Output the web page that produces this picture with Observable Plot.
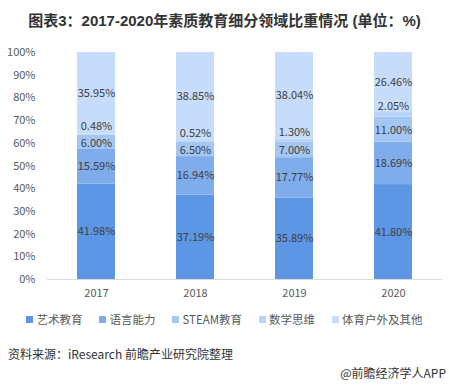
<!DOCTYPE html>
<html>
<head>
<meta charset="utf-8">
<script src="https://cdn.jsdelivr.net/npm/d3@7"></script>
<script src="https://cdn.jsdelivr.net/npm/@observablehq/plot@0.6"></script>
<style>
  html, body { margin: 0; padding: 0; background: #fff; }
  body { width: 449px; height: 385px; overflow: hidden; position: relative;
         font-family: "Noto Sans CJK SC", "Liberation Sans", sans-serif; }
  #title { position: absolute; left: 0; top: 10px; width: 449px; text-align: center;
           font-family: "Liberation Sans", "Noto Sans CJK SC", sans-serif;
           font-weight: bold; font-size: 15px; line-height: 22px; color: #333; }
  #chart { position: absolute; left: 0; top: 38px; }
  #legend { position: absolute; left: 0; top: 309px; width: 449px; display: flex;
            justify-content: center; gap: 17px; font-size: 11.5px; color: #595959; line-height: 20px; }
  #legend .item { display: flex; align-items: center; }
  #legend .sw { width: 7px; height: 7px; margin-right: 3px; }
  #source { position: absolute; left: 8px; top: 344px; font-size: 12px; color: #333; line-height: 20px; }
  #credit { position: absolute; right: 3px; top: 363px; font-size: 12px; color: #333; line-height: 20px; }
</style>
</head>
<body>
<div id="title">图表3：2017-2020年素质教育细分领域比重情况 (单位：%)</div>
<div id="chart"></div>
<div id="legend"></div>
<div id="source">资料来源：iResearch 前瞻产业研究院整理</div>
<div id="credit">@前瞻经济学人APP</div>
<script>
const years = ["2017", "2018", "2019", "2020"];
const series = ["艺术教育", "语言能力", "STEAM教育", "数学思维", "体育户外及其他"];
const art = [41.98, 37.19, 35.89, 41.80];
const language = [15.59, 16.94, 17.77, 18.69];
const steam = [6.00, 6.50, 7.00, 11.00];
const math = [0.48, 0.52, 1.30, 2.05];
const sport = [35.95, 38.85, 38.04, 26.46];
const yTicks = [0, 10, 20, 30, 40, 50, 60, 70, 80, 90, 100];
const colors = ["#5c96e4", "#7fadeb", "#a4c6f3", "#b9d4f7", "#c6dcfa"];

const seriesValues = [art, language, steam, math, sport];
const rows = [];
years.forEach((year, i) => {
  series.forEach((s, j) => rows.push({year, series: s, value: seriesValues[j][i]}));
});
const fmt = d => d.value.toFixed(2) + "%";
const labelFor = names => d => names.includes(d.series) ? fmt(d) : "";

const labelMark = (names, dy) => Plot.text(rows, Plot.stackY({
  x: "year", y: "value", z: "series", order: series,
  text: labelFor(names), fill: "#404040", fontSize: 11, dy
}));

const chart = Plot.plot({
  width: 449,
  height: 265,
  marginTop: 14,
  marginBottom: 24,
  marginLeft: 47,
  marginRight: 7,
  style: {fontFamily: "'Noto Sans CJK SC', sans-serif", fontSize: "11px", color: "#595959", background: "#fff"},
  x: {domain: years, paddingInner: 0.616, paddingOuter: 0.30, label: null, tickSize: 0, tickPadding: 10},
  y: {domain: [0, 100], ticks: yTicks, tickFormat: d => d + "%", label: null, tickSize: 0, tickPadding: 12},
  color: {domain: series, range: colors},
  marks: [
    Plot.barY(rows, Plot.stackY({x: "year", y: "value", fill: "series", order: series})),
    Plot.ruleY([0], {stroke: "#d9d9d9"}),
    labelMark(["艺术教育", "语言能力", "体育户外及其他"], 0),
    labelMark(["STEAM教育"], 1),
    labelMark(["数学思维"], -8)
  ]
});
document.getElementById("chart").appendChild(chart);

const legend = document.getElementById("legend");
series.forEach((s, j) => {
  const item = document.createElement("div");
  item.className = "item";
  const sw = document.createElement("span");
  sw.className = "sw";
  sw.style.background = colors[j];
  const t = document.createElement("span");
  t.textContent = s;
  item.appendChild(sw);
  item.appendChild(t);
  legend.appendChild(item);
});
</script>
</body>
</html>
